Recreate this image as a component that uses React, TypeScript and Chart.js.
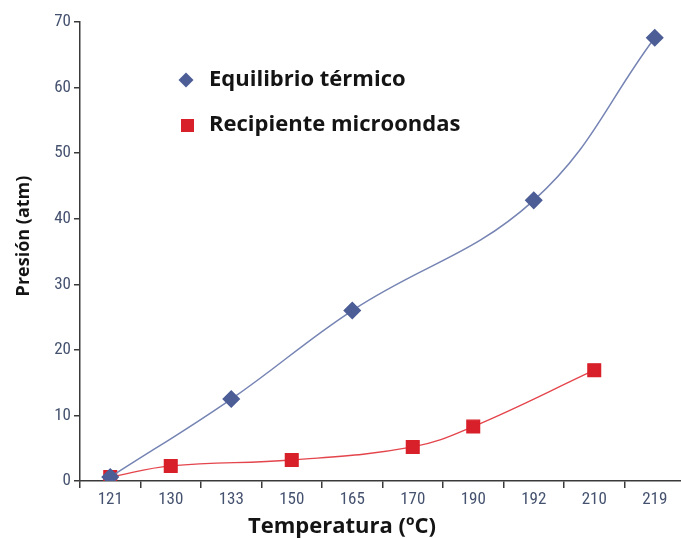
import React, { useEffect, useRef } from "react";
import { Chart, registerables } from "chart.js";

Chart.register(...registerables);

const categories = ["121", "130", "133", "150", "165", "170", "190", "192", "210", "219"];
const equilibrio = [0.6, null, 12.5, null, 26, null, null, 42.8, null, 67.6];
const microondas = [0.6, 2.3, null, 3.2, null, 5.2, 8.3, null, 16.9, null];
const seriesNames = ["Equilibrio térmico", "Recipiente microondas"];
const yTitle = "Presión (atm)";
const xTitle = "Temperatura (ºC)";

const BLUE = "#4d5e97";
const BLUE_LINE = "#7684b4";
const RED = "#d8202a";
const RED_LINE = "#e4454c";
const TICK_COLOR = "#45526f";
const AXIS_COLOR = "#3a3a3a";
const TITLE_COLOR = "#141414";
const TITLE_FONT = "'Open Sans', Lato, sans-serif";
const TICK_FONT = "'Liberation Sans Narrow', 'Roboto Condensed', 'DejaVu Sans Condensed', sans-serif";

const annotationPlugin = {
  id: "customLegendAndTitles",
  afterDraw(chart: any) {
    const ctx = chart.ctx;
    ctx.save();
    // legend diamond
    const dx = 186, dy = 80;
    ctx.fillStyle = BLUE;
    ctx.beginPath();
    ctx.moveTo(dx, dy - 7.5);
    ctx.lineTo(dx + 7.5, dy);
    ctx.lineTo(dx, dy + 7.5);
    ctx.lineTo(dx - 7.5, dy);
    ctx.closePath();
    ctx.fill();
    // legend square
    ctx.fillStyle = RED;
    ctx.fillRect(181, 119, 13, 13);
    ctx.fillStyle = TITLE_COLOR;
    ctx.font = "bold 22px " + TITLE_FONT;
    ctx.textBaseline = "middle";
    ctx.textAlign = "left";
    ctx.fillText(seriesNames[0], 209, 80);
    ctx.fillText(seriesNames[1], 209, 125);
    // x title
    ctx.font = "bold 22px " + TITLE_FONT;
    ctx.textAlign = "center";
    ctx.fillText(xTitle, 342, 527);
    // y title
    ctx.translate(24, 236);
    ctx.rotate(-Math.PI / 2);
    ctx.font = "bold 18px " + TITLE_FONT;
    ctx.fillText(yTitle, 0, 0);
    ctx.restore();
  },
};

export default function App() {
  const ref = useRef<HTMLCanvasElement | null>(null);
  useEffect(() => {
    if (!ref.current) return;
    const chart = new Chart(ref.current, {
      type: "line",
      data: {
        labels: categories,
        datasets: [
          {
            label: seriesNames[0],
            data: equilibrio as any,
            borderColor: BLUE_LINE,
            backgroundColor: BLUE,
            pointBackgroundColor: BLUE,
            pointBorderColor: BLUE,
            pointStyle: "rectRot",
            pointRadius: 8,
            borderWidth: 1.5,
            tension: 0.4,
            spanGaps: true,
          },
          {
            label: seriesNames[1],
            data: microondas as any,
            borderColor: RED_LINE,
            backgroundColor: RED,
            pointBackgroundColor: RED,
            pointBorderColor: RED,
            pointStyle: "rect",
            pointRadius: 9,
            borderWidth: 1.3,
            tension: 0.4,
            spanGaps: true,
          },
        ],
      },
      options: {
        animation: false,
        responsive: false,
        devicePixelRatio: 1,
        layout: { padding: { top: 22, right: 15, left: 0, bottom: 0 } },
        plugins: {
          legend: { display: false },
          tooltip: { enabled: false },
        },
        scales: {
          x: {
            offset: true,
            grid: {
              display: true,
              drawOnChartArea: false,
              drawTicks: true,
              tickLength: 7,
              color: AXIS_COLOR,
              lineWidth: 1.5,
              offset: true,
            },
            border: { display: true, color: AXIS_COLOR, width: 1.5 },
            ticks: {
              color: TICK_COLOR,
              font: { family: TICK_FONT, size: 17 },
              padding: 2,
              maxRotation: 0,
              autoSkip: false,
            },
            title: { display: false },
            afterFit(scale: any) {
              scale.height = 57;
            },
          },
          y: {
            min: 0,
            max: 70,
            ticks: {
              stepSize: 10,
              color: TICK_COLOR,
              font: { family: TICK_FONT, size: 17 },
              padding: 3,
            },
            grid: {
              display: true,
              drawOnChartArea: false,
              drawTicks: true,
              tickLength: 6,
              color: AXIS_COLOR,
              lineWidth: 1.5,
            },
            border: { display: true, color: AXIS_COLOR, width: 1.5 },
            title: { display: false },
            afterFit(scale: any) {
              scale.width = 80;
            },
          },
        },
      },
      plugins: [annotationPlugin],
    });
    return () => chart.destroy();
  }, []);

  return (
    <div
      style={{
        position: "fixed",
        left: 0,
        top: 0,
        width: 681,
        height: 538,
        overflow: "hidden",
        background: "#fff",
      }}
    >
      <canvas ref={ref} width={700} height={538} style={{ width: 700, height: 538, display: "block" }} />
    </div>
  );
}
